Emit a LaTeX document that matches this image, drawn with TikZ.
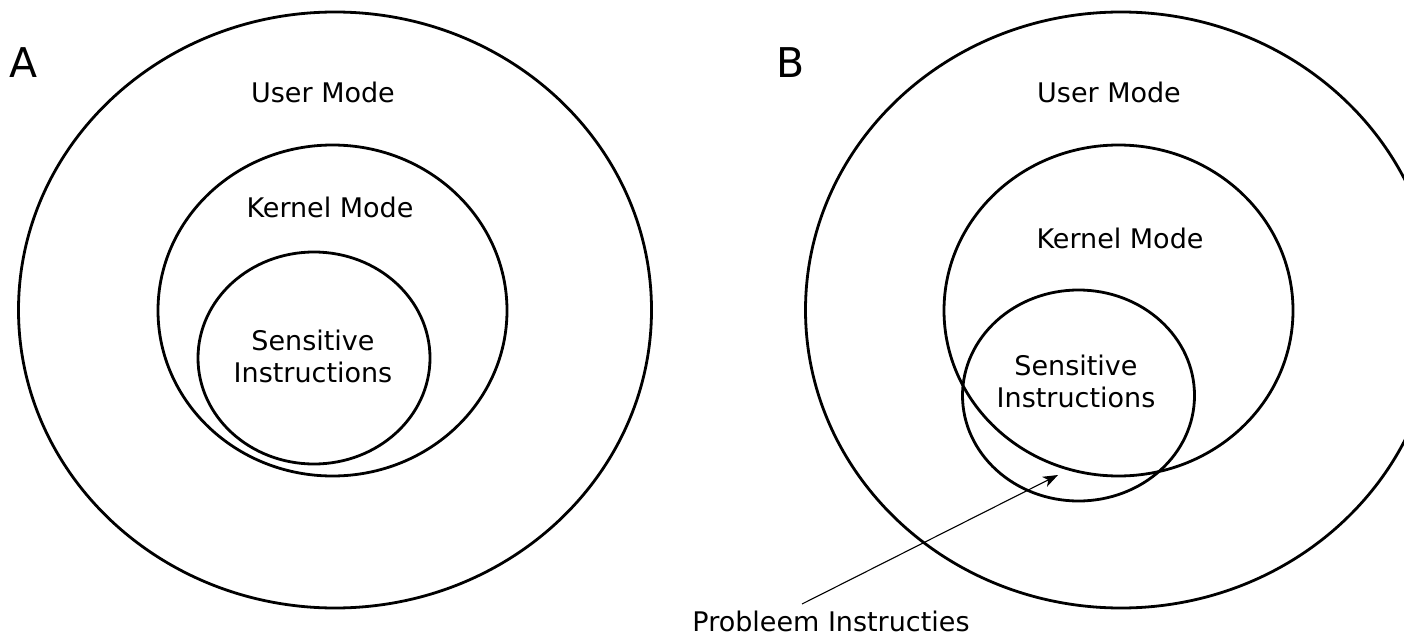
\documentclass[tikz,border=0pt]{standalone}
\usepackage{fontspec}
\setmainfont{DejaVu Sans}
\usetikzlibrary{shapes.geometric,arrows.meta}
\begin{document}
\begin{tikzpicture}[x=1pt,y=-1pt,
  ring/.style={ellipse, draw=black, line width=2.8pt, inner sep=0pt},
  lbl/.style={font=\fontsize{27}{32}\selectfont, align=center, inner sep=0pt},
  big/.style={font=\fontsize{41}{44}\selectfont, inner sep=0pt},
  pointer/.style={line width=1.1pt, -{Stealth[length=15pt,width=11pt,inset=4pt]}}]
\useasboundingbox (0,0) rectangle (1404,639);
\clip (0,0) rectangle (1404,639);
% Panel A
\node[ring, minimum width=633pt, minimum height=596pt] (outerA) at (335,310) {};
\node[ring, minimum width=349pt, minimum height=331pt] (kernA) at (332.5,310.5) {};
\node[ring, minimum width=232pt, minimum height=212pt] (sensA) at (314,358) {};
\node[big] (labA) at (24,63) {A};
\node[lbl] (userA) at (323,92) {User Mode};
\node[lbl] (kernlA) at (330,207) {Kernel Mode};
\node[lbl] (senslA) at (313,356) {Sensitive\\Instructions};
% Panel B
\node[ring, minimum width=631pt, minimum height=596pt] (outerB) at (1121,310) {};
\node[ring, minimum width=349pt, minimum height=331pt] (kernB) at (1118.5,310.5) {};
\node[ring, minimum width=232pt, minimum height=211pt] (sensB) at (1078.5,395.5) {};
\node[big] (labB) at (791,63) {B};
\node[lbl] (userB) at (1109,92) {User Mode};
\node[lbl] (kernlB) at (1120,238) {Kernel Mode};
\node[lbl] (senslB) at (1076,381) {Sensitive\\Instructions};
\node[lbl] (prob) at (831,621) {Probleem Instructies};
\coordinate (tail) at (802,604);
\coordinate (tip) at (1058,475);
\draw[pointer] (tail) -- (tip);
\end{tikzpicture}
\end{document}
